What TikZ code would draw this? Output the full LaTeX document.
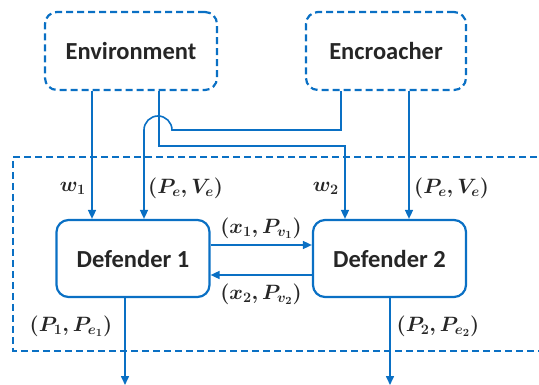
\documentclass[tikz,border=0pt]{standalone}
\usepackage{fontspec}
\usepackage{amsmath}
\setmainfont{Carlito}
\usetikzlibrary{arrows.meta}
\definecolor{lineblue}{HTML}{0A70C4}
\definecolor{ink}{HTML}{262626}
\begin{document}
\begin{tikzpicture}[x=1pt,y=-1pt,
  dashbox/.style={draw=lineblue,line width=2.2pt,dash pattern=on 7pt off 4pt,
    rounded corners=12pt,minimum width=172pt,minimum height=78pt,
    font=\fontsize{24.5}{26}\selectfont\bfseries,text=ink},
  agent/.style={draw=lineblue,line width=2.2pt,rounded corners=12pt,
    minimum width=153pt,minimum height=77pt,
    font=\fontsize{24.5}{26}\selectfont\bfseries,text=ink},
  link/.style={draw=lineblue,line width=1.6pt},
  arr/.style={link,-{Triangle[length=9pt,width=8pt]}},
  lbl/.style={text=ink,font=\fontsize{21.5}{23}\selectfont\boldmath,inner sep=0pt}]
\useasboundingbox (0,0) rectangle (539,385);

% source and agent boxes
\node[dashbox] (env) at (131,51) {Environment};
\node[dashbox,minimum width=160pt] (enc) at (386,51) {Encroacher};
\node[agent] (d1) at (133,258.5) {Defender 1};
\node[agent] (d2) at (389.5,258.5) {Defender 2};

% enclosing team boundary (open on the right)
\draw[draw=lineblue,line width=2pt,dash pattern=on 7pt off 4pt]
  (548,157) -- (13,157) -- (13,351) -- (548,351);

% signal columns
\coordinate (cw1) at (92,0);
\coordinate (cpe1) at (144,0);
\coordinate (cenv) at (159,0);
\coordinate (cw2) at (345,0);
\coordinate (cenc) at (341,0);
\coordinate (cpe2) at (409,0);
\coordinate (co1) at (125,0);
\coordinate (co2) at (390,0);
\coordinate (dn1) at (0,385);

% disturbance w1 to defender 1
\draw[arr] (cw1 |- env.south) -- (cw1 |- d1.north);
% disturbance w2 routed to defender 2
\draw[arr] (cenv |- env.south) -- (159,146) -- (345,146) -- (cw2 |- d2.north);
% encroacher state to defender 1, hopping over the w2 line
\draw[arr] (cenc |- enc.south) -- (341,130) -- (172,130)
  arc[start angle=0,end angle=180,radius=14pt] -- (cpe1 |- d1.north);
% encroacher state to defender 2
\draw[arr] (cpe2 |- enc.south) -- (cpe2 |- d2.north);

% exchange between defenders
\draw[arr] (d1.east |- 0,245) -- (d2.west |- 0,245);
\draw[arr] (d2.west |- 0,275) -- (d1.east |- 0,275);

% outputs
\draw[arr] (co1 |- d1.south) -- (co1 |- dn1);
\draw[arr] (co2 |- d2.south) -- (co2 |- dn1);

% labels
\node[lbl,anchor=east] (lw1) at (86,188) {$w_1$};
\node[lbl,anchor=west] (lpe1) at (148,188) {$(P_e,V_e)$};
\node[lbl,anchor=east] (lw2) at (339,188) {$w_2$};
\node[lbl,anchor=west] (lpe2) at (414,188) {$(P_e,V_e)$};
\node[lbl] (lx1) at (261,228) {$(x_1,P_{v_1})$};
\node[lbl] (lx2) at (261,294) {$(x_2,P_{v_2})$};
\node[lbl] (lp1) at (71,326) {$(P_1,P_{e_1})$};
\node[lbl] (lp2) at (438,326) {$(P_2,P_{e_2})$};
\end{tikzpicture}
\end{document}
